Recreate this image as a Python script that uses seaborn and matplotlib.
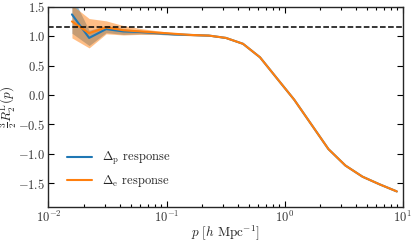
import numpy as np
import pandas as pd
import matplotlib
matplotlib.use('Agg')
import matplotlib.pyplot as plt
import seaborn as sns

# data
p = [0.0158, 0.0221, 0.0308, 0.0431, 0.0601, 0.0839, 0.117, 0.163, 0.228,
     0.318, 0.444, 0.619, 0.863, 1.205, 1.683, 2.350, 3.273, 4.571, 6.383, 8.913]
resp_p = [1.37, 0.97, 1.12, 1.08, 1.07, 1.05, 1.03, 1.02, 1.01,
          0.97, 0.87, 0.64, 0.28, -0.08, -0.50, -0.92, -1.20, -1.39, -1.52, -1.64]
resp_e = [1.25, 1.05, 1.15, 1.10, 1.08, 1.06, 1.04, 1.02, 1.01,
          0.97, 0.87, 0.64, 0.28, -0.08, -0.50, -0.92, -1.20, -1.39, -1.52, -1.64]
err_p = [0.32, 0.13, 0.06, 0.05, 0.03, 0.02, 0.015, 0.01, 0.008, 0.006,
         0.006, 0.006, 0.006, 0.006, 0.006, 0.006, 0.006, 0.006, 0.006, 0.006]
err_e = [0.28, 0.25, 0.11, 0.08, 0.05, 0.03, 0.02, 0.015, 0.01, 0.008,
         0.008, 0.008, 0.008, 0.008, 0.008, 0.008, 0.008, 0.008, 0.008, 0.008]
ref_level = 1.155

sns.set_style('ticks')
plt.rcParams['font.family'] = 'serif'
plt.rcParams['font.serif'] = ['cmr10', 'DejaVu Serif']
plt.rcParams['mathtext.fontset'] = 'cm'
plt.rcParams['axes.formatter.use_mathtext'] = True
plt.rcParams['axes.unicode_minus'] = True

df = pd.DataFrame({'p': p, 'resp_p': resp_p, 'resp_e': resp_e})

fig = plt.figure(figsize=(4.13, 2.41), dpi=100)
ax = fig.add_axes([0.1174, 0.1423, 0.8576, 0.8297])

blue = '#1f77b4'
orange = '#ff7f0e'

lo_p = np.array(resp_p) - np.array(err_p)
hi_p = np.array(resp_p) + np.array(err_p)
lo_e = np.array(resp_e) - np.array(err_e)
hi_e = np.array(resp_e) + np.array(err_e)
ax.fill_between(p, lo_p, hi_p, color=blue, alpha=0.5, lw=0)
ax.fill_between(p, lo_e, hi_e, color=orange, alpha=0.5, lw=0)

sns.lineplot(data=df, x='p', y='resp_p', color=blue, lw=1.5, ax=ax,
             label=r'$\Delta_{\rm p}$ response')
sns.lineplot(data=df, x='p', y='resp_e', color=orange, lw=1.5, ax=ax,
             label=r'$\Delta_{\rm e}$ response')
ax.axhline(ref_level, color='black', ls='--', lw=1.1)

ax.set_xscale('log')
ax.set_xlim(1e-2, 1e1)
ax.set_ylim(-1.9, 1.5)
ax.set_yticks([-1.5, -1.0, -0.5, 0.0, 0.5, 1.0, 1.5])
ax.tick_params(which='both', direction='in', top=True, right=True,
               labelsize=9, width=0.8, colors='black', labelcolor='#333333')
ax.tick_params(which='major', length=4, pad=2.5)
ax.tick_params(which='minor', length=2)
for s in ax.spines.values():
    s.set_linewidth(1.0)

ax.set_xlabel(r'$p\ [h\ {\rm Mpc}^{-1}]$', fontsize=9.5, labelpad=-1.5)
ax.set_ylabel(r'$\frac{3}{2}R_2^{\rm L}(p)$', fontsize=9.5, labelpad=-1)

ax.legend(loc='lower left', frameon=False, fontsize=9,
          bbox_to_anchor=(0.02, 0.03), handlelength=2.0)

fig.savefig('out.png', dpi=100)
